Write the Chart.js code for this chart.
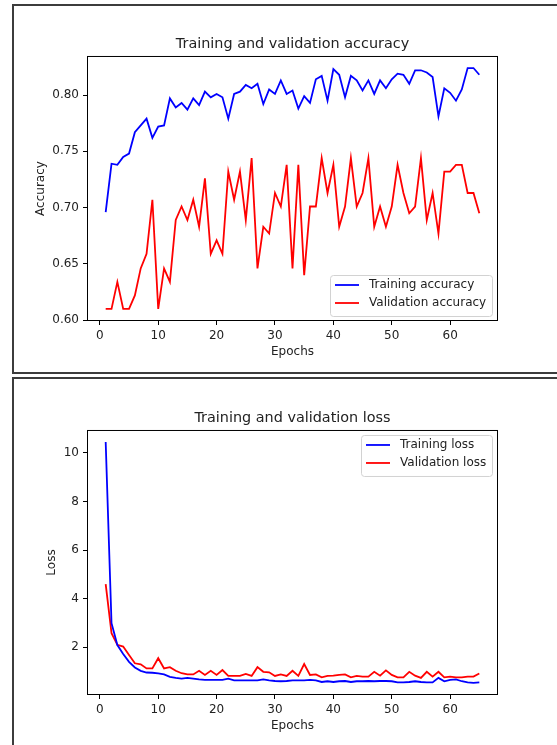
<!DOCTYPE html>
<html>
<head>
<meta charset="utf-8">
<script src="https://cdn.jsdelivr.net/npm/chart.js@4.4.0/dist/chart.umd.min.js"></script>
<style>
  html, body { margin: 0; padding: 0; background: #fff; }
  body { width: 557px; height: 745px; overflow: hidden; position: relative; }
  .panel { position: absolute; left: 0; width: 557px; height: 373px; }
  .panel canvas { position: absolute; left: 0; top: 0; }
  .frame { position: absolute; left: 12px; width: 560px; border: 2px solid #3c3c3c; box-sizing: border-box; }
</style>
</head>
<body>
<div class="frame" style="top:4px;height:370px"></div>
<div class="frame" style="top:377px;height:390px"></div>
<div class="panel" style="top:0"><canvas id="accChart" width="557" height="373"></canvas></div>
<div class="panel" style="top:374px"><canvas id="lossChart" width="557" height="373"></canvas></div>

<script>
Chart.defaults.font.family = "'DejaVu Sans', sans-serif";
Chart.defaults.font.size = 12;
Chart.defaults.color = '#222';

const epochs = [
  1, 2, 3, 4, 5, 6, 7, 8, 9, 10, 11, 12, 13, 14, 15, 16, 17, 18, 19, 20,
  21, 22, 23, 24, 25, 26, 27, 28, 29, 30, 31, 32, 33, 34, 35, 36, 37, 38, 39, 40,
  41, 42, 43, 44, 45, 46, 47, 48, 49, 50, 51, 52, 53, 54, 55, 56, 57, 58, 59, 60,
  61, 62, 63, 64, 65
];

const trainAcc = [
  0.696, 0.739, 0.738, 0.745, 0.748, 0.767, 0.773, 0.779, 0.762, 0.772,
  0.773, 0.797, 0.789, 0.793, 0.787, 0.797, 0.791, 0.803, 0.798, 0.801,
  0.798, 0.779, 0.801, 0.803, 0.809, 0.806, 0.810, 0.792, 0.805, 0.801,
  0.813, 0.801, 0.804, 0.788, 0.799, 0.793, 0.814, 0.817, 0.795, 0.823,
  0.818, 0.798, 0.817, 0.813, 0.804, 0.813, 0.801, 0.813, 0.806, 0.814,
  0.819, 0.818, 0.810, 0.822, 0.822, 0.820, 0.816, 0.781, 0.806, 0.802,
  0.795, 0.805, 0.824, 0.824, 0.818
];

const valAcc = [
  0.610, 0.610, 0.634, 0.610, 0.610, 0.622, 0.646, 0.659, 0.707, 0.610,
  0.646, 0.634, 0.689, 0.701, 0.689, 0.707, 0.683, 0.726, 0.659, 0.671,
  0.659, 0.732, 0.707, 0.732, 0.689, 0.744, 0.646, 0.683, 0.677, 0.713,
  0.701, 0.738, 0.646, 0.738, 0.640, 0.701, 0.701, 0.744, 0.713, 0.738,
  0.683, 0.701, 0.744, 0.701, 0.713, 0.744, 0.683, 0.701, 0.683, 0.701,
  0.738, 0.713, 0.695, 0.701, 0.744, 0.689, 0.713, 0.677, 0.732, 0.732,
  0.738, 0.738, 0.713, 0.713, 0.695
];

const trainLoss = [
  10.45, 2.99, 2.09, 1.72, 1.40, 1.17, 1.03, 0.96, 0.95, 0.92,
  0.88, 0.78, 0.74, 0.71, 0.74, 0.71, 0.68, 0.66, 0.66, 0.66,
  0.66, 0.71, 0.64, 0.64, 0.64, 0.64, 0.64, 0.68, 0.64, 0.61,
  0.60, 0.61, 0.64, 0.64, 0.64, 0.66, 0.64, 0.57, 0.60, 0.57,
  0.60, 0.61, 0.57, 0.60, 0.60, 0.61, 0.60, 0.61, 0.61, 0.60,
  0.55, 0.55, 0.57, 0.60, 0.57, 0.55, 0.55, 0.74, 0.60, 0.66,
  0.68, 0.60, 0.55, 0.53, 0.55
];

const valLoss = [
  4.60, 2.58, 2.10, 2.03, 1.68, 1.34, 1.30, 1.13, 1.13, 1.55,
  1.13, 1.18, 1.03, 0.93, 0.88, 0.88, 1.03, 0.86, 1.03, 0.86,
  1.06, 0.82, 0.82, 0.82, 0.90, 0.82, 1.18, 0.99, 0.97, 0.82,
  0.88, 0.82, 1.03, 0.82, 1.31, 0.86, 0.88, 0.76, 0.82, 0.83,
  0.86, 0.88, 0.76, 0.82, 0.79, 0.79, 0.99, 0.83, 1.05, 0.86,
  0.76, 0.76, 0.99, 0.83, 0.74, 0.99, 0.79, 0.99, 0.76, 0.79,
  0.76, 0.76, 0.79, 0.79, 0.92
];

const epochTicks = [0, 10, 20, 30, 40, 50, 60];
const accTicks = [0.60, 0.65, 0.70, 0.75, 0.80];
const lossTicks = [2, 4, 6, 8, 10];

// axes box inside each canvas (both figures share the same layout)
const AREA = { left: 87, right: 498, top: 56, bottom: 321 };
const CANVAS_W = 557, CANVAS_H = 373, PAD_LEFT = 14;

// matplotlib-style 5% margin around the data
function withMargin(lo, hi) {
  const m = (hi - lo) * 0.05;
  return [lo - m, hi + m];
}

// all four spines
const axesFrame = {
  id: 'axesFrame',
  afterDatasetsDraw(chart) {
    const { ctx, chartArea: a } = chart;
    ctx.save();
    ctx.strokeStyle = '#000';
    ctx.lineWidth = 1;
    ctx.strokeRect(a.left + 0.5, a.top + 0.5, a.right - a.left - 1, a.bottom - a.top - 1);
    ctx.restore();
  }
};

// legend box drawn inside the axes
const boxLegend = {
  id: 'boxLegend',
  afterDatasetsDraw(chart, args, opts) {
    const { ctx, chartArea: a } = chart;
    const sets = chart.data.datasets;
    ctx.save();
    ctx.font = "12px 'DejaVu Sans'";
    const textW = Math.max(...sets.map(d => ctx.measureText(d.label).width));
    const w = Math.round(5 + 24 + 10 + textW + 6);
    const h = 10 + 18 * (sets.length - 1) + 13;
    const x = a.right - 6 - w;
    const y = opts.loc === 'upper right' ? a.top + 5 : a.bottom - 5 - h;
    ctx.fillStyle = 'rgba(255,255,255,0.8)';
    ctx.strokeStyle = '#d2d2d2';
    ctx.lineWidth = 1;
    ctx.beginPath();
    ctx.roundRect(x + 0.5, y + 0.5, w, h, 3);
    ctx.fill();
    ctx.stroke();
    sets.forEach((d, i) => {
      const cy = y + 10 + i * 18;
      ctx.strokeStyle = d.borderColor;
      ctx.lineWidth = d.borderWidth;
      ctx.beginPath();
      ctx.moveTo(x + 5, cy);
      ctx.lineTo(x + 29, cy);
      ctx.stroke();
      ctx.fillStyle = '#222';
      ctx.textBaseline = 'middle';
      ctx.fillText(d.label, x + 39, cy);
    });
    ctx.restore();
  }
};

// yTitleGap: distance from canvas edge to the rotated y label, depends on tick label width
function plotHistory(id, title, yLabel, series, yTicks, fmt, legendLoc, yTitleGap) {
  const all = series.flatMap(s => s.data);
  const [xMin, xMax] = withMargin(epochs[0], epochs[epochs.length - 1]);
  const [yMin, yMax] = withMargin(Math.min(...all), Math.max(...all));
  const tickGrid = { drawOnChartArea: false, drawTicks: true, tickLength: 4, color: '#000' };

  return new Chart(document.getElementById(id), {
    type: 'line',
    data: {
      datasets: series.map(s => ({
        label: s.label,
        data: epochs.map((e, i) => ({ x: e, y: s.data[i] })),
        borderColor: s.color,
        borderWidth: 1.8,
        pointRadius: 0,
        tension: 0,
        fill: false
      }))
    },
    options: {
      responsive: false,
      animation: false,
      devicePixelRatio: 1,
      layout: { padding: { left: PAD_LEFT, right: CANVAS_W - AREA.right, top: 0, bottom: 0 } },
      scales: {
        x: {
          type: 'linear',
          min: xMin,
          max: xMax,
          afterBuildTicks: s => { s.ticks = epochTicks.map(v => ({ value: v })); },
          afterFit: s => { s.height = CANVAS_H - AREA.bottom; },
          grid: tickGrid,
          border: { display: false },
          ticks: { padding: 4, maxRotation: 0, autoSkip: false, color: '#222' },
          title: { display: true, text: 'Epochs', color: '#222', padding: { top: 0, bottom: 13.5 } }
        },
        y: {
          min: yMin,
          max: yMax,
          afterBuildTicks: s => { s.ticks = yTicks.map(v => ({ value: v })); },
          afterFit: s => { s.width = AREA.left - PAD_LEFT; },
          grid: tickGrid,
          border: { display: false },
          ticks: { padding: 4, color: '#222', callback: v => fmt(v) },
          title: { display: true, text: yLabel, color: '#222', padding: { top: yTitleGap, bottom: 0 } }
        }
      },
      plugins: {
        legend: { display: false },
        tooltip: { enabled: false },
        title: {
          display: true,
          text: title,
          fullSize: false,
          color: '#222',
          font: { size: 14.4, weight: 'normal' },
          padding: { top: 35.4, bottom: 3.3 }
        },
        boxLegend: { loc: legendLoc }
      }
    },
    plugins: [axesFrame, boxLegend]
  });
}

plotHistory('accChart', 'Training and validation accuracy', 'Accuracy', [
  { label: 'Training accuracy', data: trainAcc, color: 'blue' },
  { label: 'Validation accuracy', data: valAcc, color: 'red' }
], accTicks, v => v.toFixed(2), 'lower right', 19.3);

plotHistory('lossChart', 'Training and validation loss', 'Loss', [
  { label: 'Training loss', data: trainLoss, color: 'blue' },
  { label: 'Validation loss', data: valLoss, color: 'red' }
], lossTicks, v => String(v), 'upper right', 30.8);
</script>
</body>
</html>
